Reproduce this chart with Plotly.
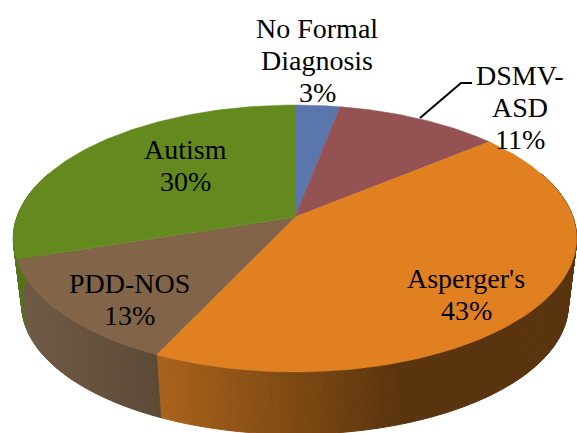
import numpy as np
import plotly.graph_objects as go

categories = [["No Formal", "Diagnosis"], ["DSMV-", "ASD"], ["Asperger's"], ["PDD-NOS"], ["Autism"]]
values = [3, 11, 43, 13, 30]
top_colors = ["#5b76ad", "#955252", "#e08020", "#826548", "#648a1f"]
# wall shading: (screen x, colour) stops for each slice
wall_stops = [
    [(0, "#47597f"), (577, "#47597f")],
    [(0, "#6d3c3c"), (577, "#6d3c3c")],
    [(160, "#a9621b"), (300, "#7c4813"), (400, "#5a340e"), (577, "#5a340e")],
    [(15, "#705b45"), (160, "#5c4935")],
    [(15, "#55741c"), (60, "#55741c")],
]
label_xy = [(317, 28), (520, 75), (466, 278), (129, 283), (185, 149)]
leader_x = [420, 461, 472]
leader_y = [118, 83, 83]

W, H = 577, 433
APEX_X, APEX_Y = 295, 217
A, B, K = 278, 130, 0.161
DEPTH, SHRINK = 67, 0.97
FONT = "Liberation Serif"
LINE_PITCH = 32


def top_xy(t):
    u, v = np.sin(t), np.cos(t)
    d = 1 + K * v
    return APEX_X + A * u / d, APEX_Y - B * v / d


def bottom_xy(t):
    x, y = top_xy(t)
    return APEX_X + (x - APEX_X) * SHRINK, APEX_Y + DEPTH + (y - APEX_Y) * SHRINK


def hex_rgb(h):
    return np.array([int(h[i:i + 2], 16) for i in (1, 3, 5)], float)


def wall_colour(stops, x):
    xs = [s[0] for s in stops]
    chans = np.array([hex_rgb(s[1]) for s in stops])
    c = [np.interp(x, xs, chans[:, i]) for i in range(3)]
    return "rgb(%d,%d,%d)" % tuple(int(round(v)) for v in c)


fig = go.Figure()
edges = 2 * np.pi * np.concatenate([[0], np.cumsum(values)]) / sum(values)

# side walls, only the part that faces the viewer
for i in range(len(values)):
    t0, t1 = edges[i], edges[i + 1]
    n = max(2, int((t1 - t0) / 0.012))
    ts = np.linspace(t0, t1, n + 1)
    for a, b in zip(ts[:-1], ts[1:]):
        if np.cos((a + b) / 2) > 0.35:
            continue
        xa, ya = top_xy(a)
        xb, yb = top_xy(b)
        xc, yc = bottom_xy(b)
        xd, yd = bottom_xy(a)
        col = wall_colour(wall_stops[i], (xa + xb) / 2)
        fig.add_trace(go.Scatter(
            x=[xa, xb, xc, xd, xa], y=[ya, yb, yc, yd, ya], mode="lines",
            fill="toself", fillcolor=col, line=dict(color=col, width=1),
            hoverinfo="skip", showlegend=False))

# top faces
for i in range(len(values)):
    ts = np.linspace(edges[i], edges[i + 1], 120)
    xs, ys = top_xy(ts)
    fig.add_trace(go.Scatter(
        x=np.concatenate([[APEX_X], xs, [APEX_X]]),
        y=np.concatenate([[APEX_Y], ys, [APEX_Y]]),
        mode="lines", fill="toself", fillcolor=top_colors[i],
        line=dict(color=top_colors[i], width=0.5),
        hoverinfo="skip", showlegend=False))

fig.add_trace(go.Scatter(x=leader_x, y=leader_y, mode="lines",
                         line=dict(color="black", width=2),
                         hoverinfo="skip", showlegend=False))

for cat, val, (lx, ly) in zip(categories, values, label_xy):
    for j, line in enumerate(cat + [f"{val}%"]):
        fig.add_annotation(x=lx, y=ly + j * LINE_PITCH, text=line, showarrow=False,
                           font=dict(family=FONT, size=28, color="black"),
                           xanchor="center", yanchor="middle", align="center")

fig.update_layout(
    width=W, height=H, margin=dict(l=0, r=0, t=0, b=0),
    paper_bgcolor="white", plot_bgcolor="white", showlegend=False,
    xaxis=dict(range=[0, W], visible=False, fixedrange=True),
    yaxis=dict(range=[H, 0], visible=False, fixedrange=True),
)
fig.write_html("out.html", config={"displayModeBar": False},
               post_script="document.body.style.margin='0';document.body.style.overflow='hidden';")
